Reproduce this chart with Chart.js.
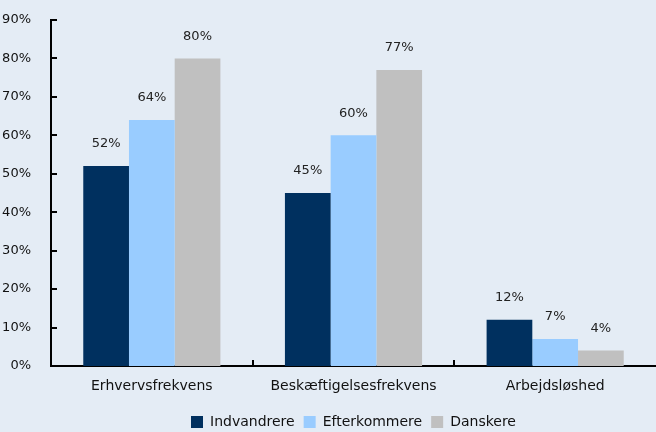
<!DOCTYPE html>
<html>
<head>
<meta charset="utf-8">
<script src="https://cdn.jsdelivr.net/npm/chart.js@4.4.1/dist/chart.umd.min.js"></script>
<style>
  html, body { margin: 0; padding: 0; background: #e4ecf5; }
  #wrap { width: 656px; height: 432px; }
</style>
</head>
<body>
<div id="wrap"><canvas id="chart"></canvas></div>
<script>
const categories = ['Erhvervsfrekvens', 'Beskæftigelsesfrekvens', 'Arbejdsløshed'];
const indvandrere = [52, 45, 12];
const efterkommere = [64, 60, 7];
const danskere = [80, 77, 4];
const yTicks = [0, 10, 20, 30, 40, 50, 60, 70, 80, 90];

const FONT = 'DejaVu Sans';

// labels over the bars and inward tick marks
const extras = {
  id: 'extras',
  beforeLayout(chart) {
    const lg = chart.legend;
    if (lg && !lg._patched) {
      const fit = lg.fit;
      lg.fit = function () { fit.call(this); this.height = 26; };
      lg._patched = true;
    }
  },
  afterDatasetsDraw(chart) {
    const ctx = chart.ctx;
    ctx.save();
    ctx.fillStyle = '#222';
    ctx.font = '13px ' + FONT;
    ctx.textAlign = 'center';
    ctx.textBaseline = 'middle';
    chart.data.datasets.forEach((ds, i) => {
      chart.getDatasetMeta(i).data.forEach((bar, j) => {
        ctx.fillText(ds.data[j] + '%', bar.x, bar.y - 22);
      });
    });

    const x = chart.scales.x, y = chart.scales.y;
    const area = chart.chartArea;
    ctx.strokeStyle = '#000';
    ctx.lineWidth = 2;
    ctx.beginPath();
    y.ticks.forEach((t, i) => {
      const py = Math.round(y.getPixelForTick(i));
      ctx.moveTo(area.left, py);
      ctx.lineTo(area.left + 6, py);
    });
    for (let i = 1; i < categories.length; i++) {
      const px = Math.round((x.getPixelForValue(i - 1) + x.getPixelForValue(i)) / 2);
      ctx.moveTo(px, area.bottom);
      ctx.lineTo(px, area.bottom - 6);
    }
    ctx.stroke();
    ctx.restore();
  }
};

new Chart(document.getElementById('chart'), {
  type: 'bar',
  data: {
    labels: categories,
    datasets: [
      { label: 'Indvandrere', data: indvandrere, backgroundColor: '#00305f' },
      { label: 'Efterkommere', data: efterkommere, backgroundColor: '#99ccff' },
      { label: 'Danskere', data: danskere, backgroundColor: '#c0c0c0' }
    ]
  },
  options: {
    responsive: true,
    maintainAspectRatio: false,
    animation: false,
    layout: { padding: { top: 20, right: 0, left: 0, bottom: 0 } },
    datasets: { bar: { barPercentage: 1, categoryPercentage: 0.68 } },
    plugins: {
      legend: {
        position: 'bottom',
        fullSize: false,
        labels: {
          font: { family: FONT, size: 14 },
          color: '#111',
          boxWidth: 12,
          boxHeight: 12,
          padding: 9
        }
      },
      tooltip: { enabled: false }
    },
    scales: {
      x: {
        grid: { display: false },
        border: { color: '#000', width: 2 },
        ticks: { font: { family: FONT, size: 14 }, color: '#111', padding: 4 },
        afterFit: axis => { axis.height = 40; }
      },
      y: {
        min: 0,
        max: 90,
        afterBuildTicks: axis => { axis.ticks = yTicks.map(v => ({ value: v })); },
        grid: { display: false },
        border: { color: '#000', width: 2 },
        ticks: {
          font: { family: FONT, size: 13 },
          color: '#111',
          padding: 12,
          callback: v => v + '%'
        },
        afterFit: axis => { axis.width = 51; }
      }
    }
  },
  plugins: [extras]
});
</script>
</body>
</html>
